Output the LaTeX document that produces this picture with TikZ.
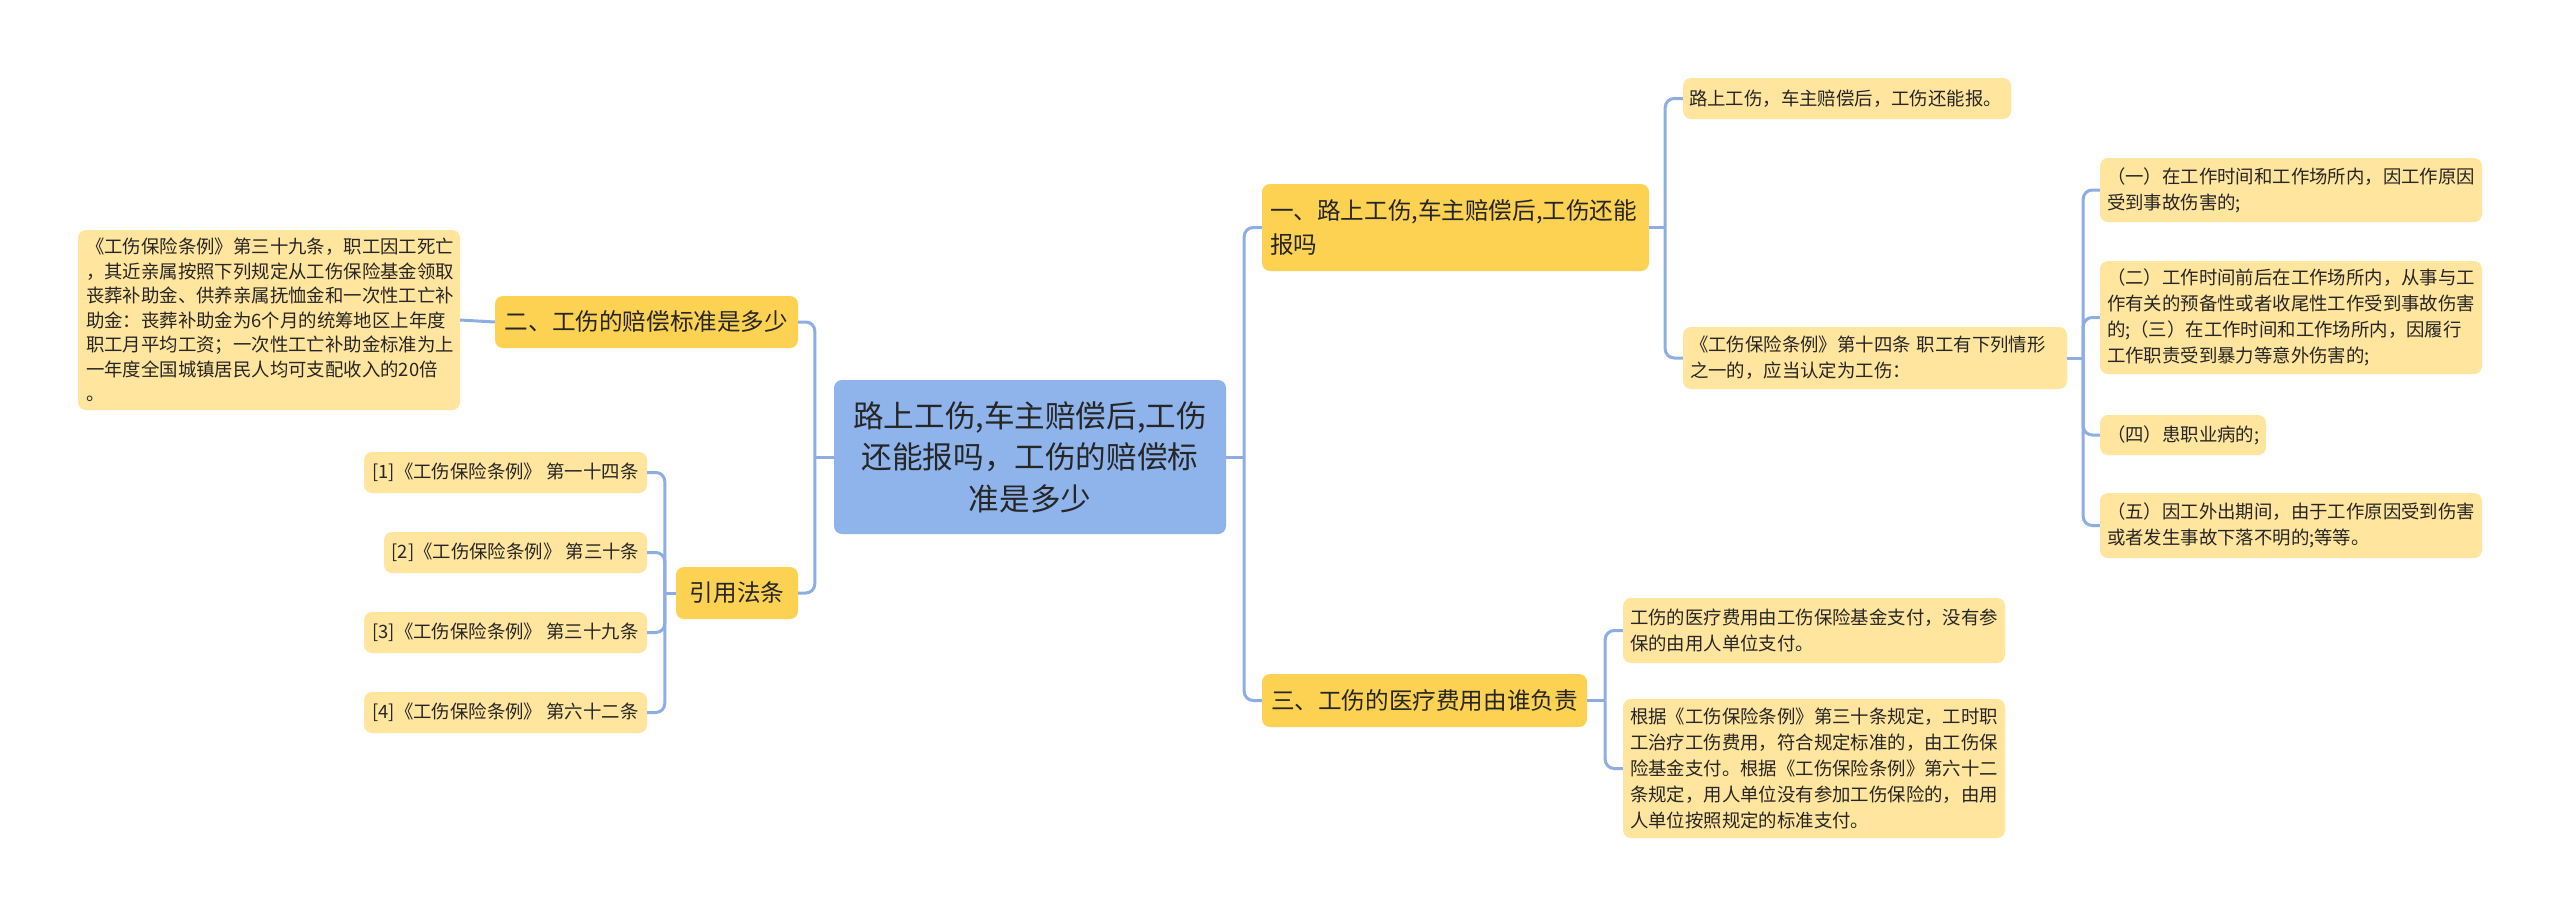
\documentclass[tikz,border=0pt]{standalone}
\usepackage{fontspec}
\newfontfamily\cjk{Noto Sans CJK SC}
\usetikzlibrary{calc}
\definecolor{rootfill}{HTML}{8FB3EB}
\definecolor{topicfill}{HTML}{FDD253}
\definecolor{leaffill}{HTML}{FFE59D}
\definecolor{linec}{HTML}{8DADE3}
\definecolor{txt}{HTML}{262626}
\begin{document}
\begin{tikzpicture}[x=1pt,y=-1pt,
  box/.style={rounded corners=8pt, inner sep=0pt, text=txt},
  rootbox/.style={box, fill=rootfill, font=\cjk\fontsize{30.6}{41.5}\selectfont, align=center},
  topic/.style={box, fill=topicfill, font=\cjk\fontsize{23.6}{34}\selectfont},
  leaf/.style={box, fill=leaffill, font=\cjk\fontsize{18.4}{26}\selectfont},
  conn/.style={draw=linec, line width=3pt, rounded corners=9pt}
]
\useasboundingbox[fill=white] (0,0) rectangle (2560,916);

% root
\node[rootbox, minimum width=392pt, minimum height=154pt] (root) at (1030,457)
  {路上工伤,车主赔偿后,工伤\\还能报吗，工伤的赔偿标\\准是多少};

% left side
\node[topic, minimum width=303pt, minimum height=52pt, align=center] (t2) at (646.5,322)
  {二、工伤的赔偿标准是多少};
\node[topic, minimum width=122pt, minimum height=52pt, align=center] (tcite) at (737,593)
  {引用法条};
\node[leaf, font=\cjk\fontsize{18.4}{24.5}\selectfont, minimum width=382pt, minimum height=180pt, text width=366pt, align=left] (l2) at (269,320)
  {《工伤保险条例》第三十九条，职工因工死亡\\，其近亲属按照下列规定从工伤保险基金领取\\丧葬补助金、供养亲属抚恤金和一次性工亡补\\助金：丧葬补助金为6个月的统筹地区上年度\\职工月平均工资；一次性工亡补助金标准为上\\一年度全国城镇居民人均可支配收入的20倍\\。};
\node[leaf, minimum width=283pt, minimum height=41pt, align=center] (c1) at (505.5,472.5)
  {[1]《工伤保险条例》 第一十四条};
\node[leaf, minimum width=263pt, minimum height=41pt, align=center] (c2) at (515.5,552.5)
  {[2]《工伤保险条例》 第三十条};
\node[leaf, minimum width=283pt, minimum height=41pt, align=center] (c3) at (505.5,632.5)
  {[3]《工伤保险条例》 第三十九条};
\node[leaf, minimum width=283pt, minimum height=41pt, align=center] (c4) at (505.5,712.5)
  {[4]《工伤保险条例》 第六十二条};

% right side
\node[topic, minimum width=387pt, minimum height=87pt, text width=371pt, align=left] (t1) at (1455.5,227.5)
  {一、路上工伤,车主赔偿后,工伤还能\\报吗};
\node[topic, minimum width=325pt, minimum height=53pt, align=center] (t3) at (1424.5,700.5)
  {三、工伤的医疗费用由谁负责};
\node[leaf, minimum width=328pt, minimum height=41pt, text width=316pt, align=left] (a1) at (1847,98.5)
  {路上工伤，车主赔偿后，工伤还能报。};
\node[leaf, minimum width=384pt, minimum height=62pt, text width=370pt, align=left] (a2) at (1875,358)
  {《工伤保险条例》第十四条 职工有下列情形\\之一的，应当认定为工伤：};
\node[leaf, minimum width=382pt, minimum height=64pt, text width=368pt, align=left] (b1) at (2291,190)
  {（一）在工作时间和工作场所内，因工作原因\\受到事故伤害的;};
\node[leaf, minimum width=382pt, minimum height=113pt, text width=368pt, align=left] (b2) at (2291,317.5)
  {（二）工作时间前后在工作场所内，从事与工\\作有关的预备性或者收尾性工作受到事故伤害\\的;（三）在工作时间和工作场所内，因履行\\工作职责受到暴力等意外伤害的;};
\node[leaf, minimum width=166pt, minimum height=40pt, text width=152pt, align=left] (b4) at (2183,435)
  {（四）患职业病的;};
\node[leaf, minimum width=382pt, minimum height=65pt, text width=368pt, align=left] (b5) at (2291,525.5)
  {（五）因工外出期间，由于工作原因受到伤害\\或者发生事故下落不明的;等等。};
\node[leaf, minimum width=382pt, minimum height=65pt, text width=368pt, align=left] (d1) at (1814,630.5)
  {工伤的医疗费用由工伤保险基金支付，没有参\\保的由用人单位支付。};
\node[leaf, minimum width=382pt, minimum height=139pt, text width=368pt, align=left] (d2) at (1814,768.5)
  {根据《工伤保险条例》第三十条规定，工时职\\工治疗工伤费用，符合规定标准的，由工伤保\\险基金支付。根据《工伤保险条例》第六十二\\条规定，用人单位没有参加工伤保险的，由用\\人单位按照规定的标准支付。};

% connectors
\coordinate (jL) at ($(root.west)+(-19,0)$);
\coordinate (jR) at ($(root.east)+(18,0)$);
\coordinate (jC) at ($(tcite.west)+(-11,0)$);
\coordinate (j1) at ($(t1.east)+(16,0)$);
\coordinate (ja) at ($(a2.east)+(16,0)$);
\coordinate (j3) at ($(t3.east)+(18,0)$);

\draw[conn] (root.west) -- (jL);
\draw[conn] (jL) |- (t2.east);
\draw[conn] (jL) |- (tcite.east);
\draw[conn] (t2.west) -- (l2.east);
\draw[conn] (tcite.west) -- (jC);
\draw[conn] (jC) |- (c1.east);
\draw[conn] (jC) |- (c2.east);
\draw[conn] (jC) |- (c3.east);
\draw[conn] (jC) |- (c4.east);

\draw[conn] (root.east) -- (jR);
\draw[conn] (jR) |- (t1.west);
\draw[conn] (jR) |- (t3.west);
\draw[conn] (t1.east) -- (j1);
\draw[conn] (j1) |- (a1.west);
\draw[conn] (j1) |- (a2.west);
\draw[conn] (a2.east) -- (ja);
\draw[conn] (ja) |- (b1.west);
\draw[conn] (ja) |- (b2.west);
\draw[conn] (ja) |- (b4.west);
\draw[conn] (ja) |- (b5.west);
\draw[conn] (t3.east) -- (j3);
\draw[conn] (j3) |- (d1.west);
\draw[conn] (j3) |- (d2.west);
\end{tikzpicture}
\end{document}
